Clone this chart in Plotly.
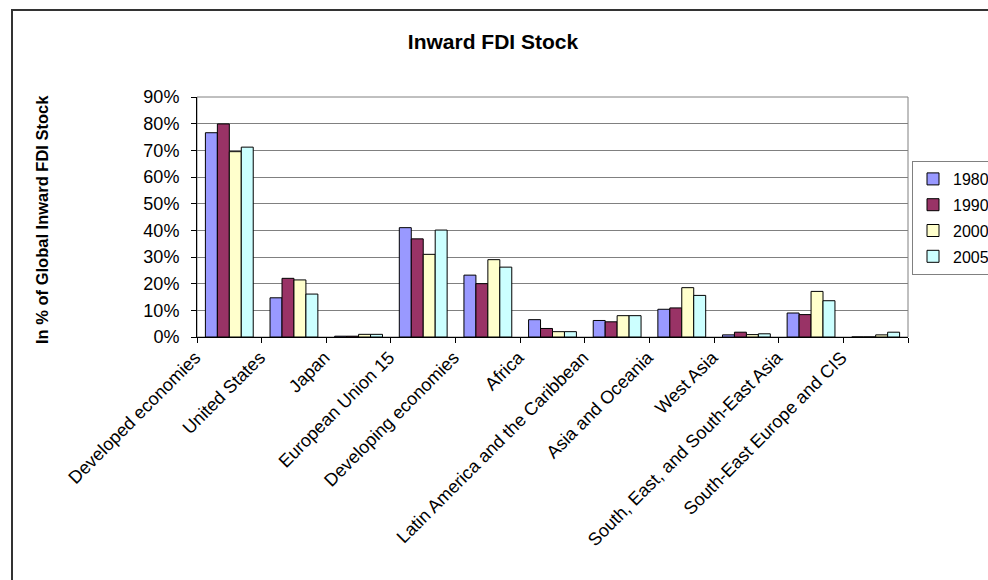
import plotly.graph_objects as go

# Regions shown on the category axis
regions = [
    "Developed economies",
    "United States",
    "Japan",
    "European Union 15",
    "Developing economies",
    "Africa",
    "Latin America and the Caribbean",
    "Asia and Oceania",
    "West Asia",
    "South, East, and South-East Asia",
    "South-East Europe and CIS",
]

# Share of global inward FDI stock (%) by year
share_1980 = [76.6, 14.7, 0.3, 41.0, 23.2, 6.5, 6.2, 10.4, 0.8, 9.0, 0.0]
share_1990 = [79.9, 22.0, 0.3, 36.8, 20.0, 3.2, 5.7, 10.9, 1.8, 8.4, 0.0]
share_2000 = [69.5, 21.4, 1.0, 31.0, 29.0, 2.0, 8.0, 18.5, 0.9, 17.1, 0.8]
share_2005 = [71.2, 16.1, 1.0, 40.1, 26.2, 2.0, 8.0, 15.6, 1.2, 13.6, 1.8]

years = ["1980", "1990", "2000", "2005"]
series = [share_1980, share_1990, share_2000, share_2005]
colors = ["#9999FF", "#993366", "#FFFFCC", "#CCFFFF"]

y_ticks = list(range(0, 91, 10))

FONT = "Liberation Sans, Arial, sans-serif"

# Plot-area geometry in pixels
W, H = 988, 580
L, R, T, B = 197, 908, 97, 337

fig = go.Figure()
for yr, vals, col in zip(years, series, colors):
    fig.add_trace(go.Bar(
        name=yr,
        x=regions,
        y=vals,
        marker=dict(color=col, line=dict(color="#000000", width=1)),
        legendgroup=yr,
    ))

def px_x(px):
    return (px - L) / (R - L)

def px_y(py):
    return (B - py) / (B - T)

fig.update_layout(
    width=W,
    height=H,
    margin=dict(l=L, r=W - R, t=T, b=H - B, autoexpand=False),
    paper_bgcolor="white",
    plot_bgcolor="white",
    barmode="group",
    bargap=0.26,
    bargroupgap=0.0,
    font=dict(family=FONT, size=16, color="#000000"),
    title=dict(
        text="<b>Inward FDI Stock</b>",
        x=493 / W, xref="container", xanchor="center",
        y=1 - 42 / H, yref="container", yanchor="middle",
        font=dict(family=FONT, size=21, color="#000000"),
    ),
    showlegend=True,
    legend=dict(
        xref="container", yref="container",
        x=912 / W, y=1 - 161 / H,
        xanchor="left", yanchor="top",
        bgcolor="white",
        bordercolor="#808080",
        borderwidth=1,
        font=dict(family=FONT, size=16, color="#000000"),
        traceorder="grouped",
        tracegroupgap=2,
    ),
    xaxis=dict(
        type="category",
        automargin=False,
        tickangle=-45,
        ticks="outside",
        tickson="boundaries",
        ticklen=5,
        tickcolor="#000000",
        ticklabelshift=-34,
        ticklabelstandoff=2,
        showline=True,
        linecolor="#000000",
        linewidth=1,
        showgrid=False,
        tickfont=dict(family=FONT, size=18, color="#000000"),
    ),
    yaxis=dict(
        automargin=False,
        range=[0, 90],
        tickvals=y_ticks,
        ticktext=[f"{v}%" for v in y_ticks],
        ticks="outside",
        ticklen=5,
        tickcolor="#000000",
        ticklabelstandoff=8,
        showline=True,
        linecolor="#000000",
        linewidth=1,
        showgrid=True,
        gridcolor="#808080",
        gridwidth=1,
        zeroline=False,
        tickfont=dict(family=FONT, size=18, color="#000000"),
    ),
    annotations=[
        dict(
            text="<b>In % of Global Inward FDI Stock</b>",
            textangle=-90,
            x=px_x(42), y=px_y(220),
            xref="paper", yref="paper",
            xanchor="center", yanchor="middle",
            showarrow=False,
            font=dict(family=FONT, size=16.5, color="#000000"),
        )
    ],
    shapes=[
        # plot-area frame
        dict(type="rect", xref="paper", yref="paper",
             x0=0, x1=1, y0=0, y1=1,
             line=dict(color="#808080", width=1), layer="below"),
        # outer chart frame
        dict(type="rect", xref="paper", yref="paper",
             x0=px_x(12), x1=px_x(1200), y0=px_y(10), y1=px_y(800),
             line=dict(color="#333333", width=2), layer="below"),
    ],
)

fig.write_html("out.html")
